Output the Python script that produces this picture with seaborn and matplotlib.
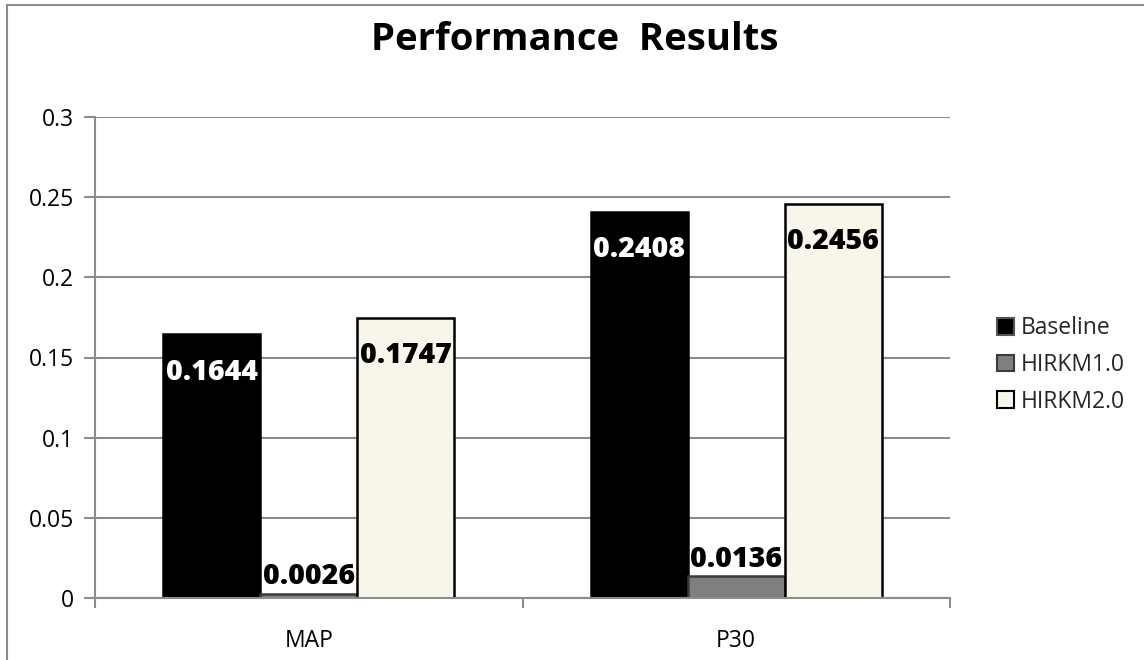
import matplotlib
matplotlib.use("Agg")
import matplotlib.pyplot as plt
import seaborn as sns
import pandas as pd
from matplotlib.patches import Patch, Rectangle

categories = ["MAP", "P30"]
series = ["Baseline", "HIRKM1.0", "HIRKM2.0"]
baseline = [0.1644, 0.2408]
hirkm1 = [0.0026, 0.0136]
hirkm2 = [0.1747, 0.2456]
yticks = [0, 0.05, 0.1, 0.15, 0.2, 0.25, 0.3]
ytick_labels = ["0", "0.05", "0.1", "0.15", "0.2", "0.25", "0.3"]

fills = ["#000000", "#7f7f7f", "#f8f6eb"]
edges = ["#000000", "#3a3a3a", "#000000"]
label_colors = ["white", "black", "black"]

rows = []
for s, vals in zip(series, [baseline, hirkm1, hirkm2]):
    for c, v in zip(categories, vals):
        rows.append({"cat": c, "series": s, "value": v})
df = pd.DataFrame(rows)

sns.set_theme(style="white")
plt.rcParams["font.family"] = ["Open Sans", "DejaVu Sans"]

fig = plt.figure(figsize=(11.44, 6.6), dpi=100)
ax = fig.add_axes([95/1144, 1-598/660, (950-95)/1144, (598-117)/660])

sns.barplot(data=df, x="cat", y="value", hue="series", hue_order=series,
            order=categories, palette=fills, width=0.68, ax=ax,
            legend=False, errorbar=None, saturation=1, zorder=3)

for i, cont in enumerate(ax.containers):
    for p in cont.patches:
        p.set_edgecolor(edges[i])
        p.set_linewidth(1.8)
        p.set_zorder(3)
    for p, v in zip(cont.patches, [baseline, hirkm1, hirkm2][i]):
        xc = p.get_x() + p.get_width() / 2
        if v < 0.02:
            ax.text(xc, v + 0.0107, f"{v:.4f}", ha="center", va="center",
                    fontsize=20.5, fontweight=800, color=label_colors[i], zorder=5)
        else:
            ax.text(xc, v - 0.0235, f"{v:.4f}", ha="center", va="center",
                    fontsize=20.5, fontweight=800, color=label_colors[i], zorder=5)

ax.set_xlim(-0.5, 1.5)
ax.set_ylim(0, 0.3)
ax.set_yticks(yticks)
ax.set_yticklabels(ytick_labels)
ax.yaxis.grid(True, color="#8c8c8c", linewidth=1.5, zorder=0)
ax.set_axisbelow(True)
ax.set_xlabel("")
ax.set_ylabel("")

for side in ["top", "right"]:
    ax.spines[side].set_visible(False)
for side in ["left", "bottom"]:
    ax.spines[side].set_color("#8c8c8c")
    ax.spines[side].set_linewidth(1.5)
    ax.spines[side].set_zorder(4)

ax.tick_params(axis="y", which="major", left=True, length=8, width=1.5,
               color="#8c8c8c", labelsize=16.5, pad=7, labelcolor="black")
ax.set_xticks([0, 1])
ax.set_xticklabels(categories)
ax.tick_params(axis="x", which="major", bottom=False, labelsize=16.5,
               pad=16, labelcolor="black")
ax.set_xticks([-0.5, 0.5, 1.5], minor=True)
ax.tick_params(axis="x", which="minor", bottom=True, length=7, width=1.5,
               color="#8c8c8c")

fig.text(575/1144, 1-40/660, "Performance  Results", ha="center", va="center",
         fontsize=27.5, fontweight="bold", color="black")

handles = [Patch(facecolor=fills[i], edgecolor=edges[i] if i else "#555555",
                 linewidth=1.5) for i in range(3)]
fig.legend(handles, series, loc="center left",
           bbox_to_anchor=(988/1144, 1-365/660), frameon=False,
           fontsize=16.5, handlelength=0.75, handleheight=0.75,
           handletextpad=0.3, labelspacing=0.55, borderaxespad=0)

fig.add_artist(Rectangle((7/1144, -0.05), 1.2, 1 - 5/660 + 0.05,
                         transform=fig.transFigure, fill=False,
                         edgecolor="#8c8c8c", linewidth=1.5))

fig.savefig("out.png", dpi=100, facecolor="white")
